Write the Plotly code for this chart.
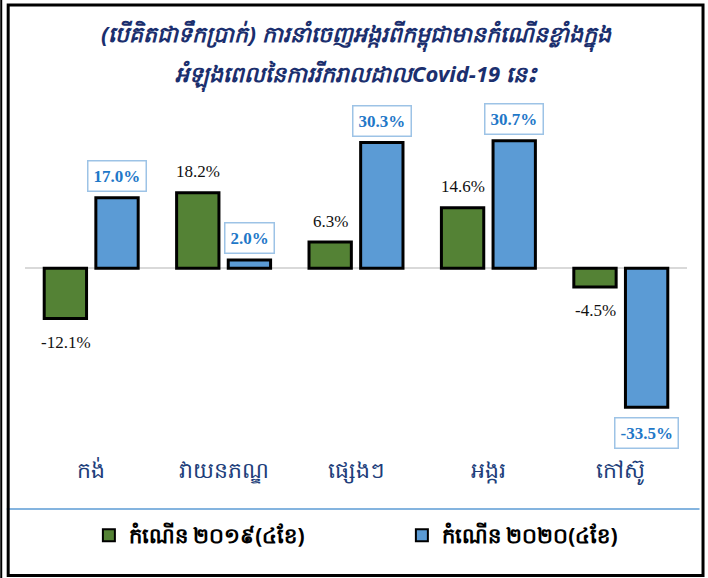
import plotly.graph_objects as go

categories = ["កង់", "វាយនភណ្ឌ", "ផ្សេងៗ", "អង្ករ", "កៅស៊ូ"]
growth_2019 = [-12.1, 18.2, 6.3, 14.6, -4.5]
growth_2020 = [17.0, 2.0, 30.3, 30.7, -33.5]
series_names = ["កំណើន ២០១៩(៤ខែ)", "កំណើន ២០២០(៤ខែ)"]
title_lines = ["(បើគិតជាទឹកប្រាក់) ការនាំចេញអង្ករពីកម្ពុជាមានកំណើនខ្លាំងក្នុង",
               "អំឡុងពេលនៃការរីករាលដាលCovid-19 នេះ"]

GREEN = "#548235"
BLUE = "#5b9bd5"
NAVY = "#1b2f6e"

fig = go.Figure()
fig.add_trace(go.Bar(x=categories, y=growth_2019, name=series_names[0],
                     marker=dict(color=GREEN, line=dict(color="black", width=3))))
fig.add_trace(go.Bar(x=categories, y=growth_2020, name=series_names[1],
                     marker=dict(color=BLUE, line=dict(color="black", width=3))))

annotations = []
off = 0.194
for i, v in enumerate(growth_2019):
    annotations.append(dict(
        x=i - off, y=v, xref="x", yref="y", showarrow=False,
        text=f"{v:.1f}%", yshift=21 if v >= 0 else -24,
        font=dict(family="Liberation Serif", size=17, color="#111111")))
for i, v in enumerate(growth_2020):
    annotations.append(dict(
        x=i + off, y=v, xref="x", yref="y", showarrow=False,
        text=f"<b>{v:.1f}%</b>", yshift=22 if v >= 0 else -26,
        bordercolor="#9dc3e6", borderwidth=1.5, borderpad=5, bgcolor="white",
        font=dict(family="Liberation Serif", size=17, color="#1f78c8")))

for k, line in enumerate(title_lines):
    annotations.append(dict(
        x=0.5, xref="paper", y=[1.323, 1.203][k], yref="paper", showarrow=False,
        text=f"<b><i>{line}</i></b>",
        font=dict(family="Noto Sans, DejaVu Sans", size=22, color=NAVY)))

fig.update_layout(
    width=708, height=578,
    margin=dict(l=25, r=21, t=123, b=123, autoexpand=False),
    paper_bgcolor="white", plot_bgcolor="white",
    barmode="group", bargap=0.22, bargroupgap=0.18,
    showlegend=True,
    legend=dict(orientation="h", x=0.0965, xanchor="left", y=-0.181, yanchor="top",
                font=dict(family="Noto Sans, DejaVu Sans", size=21, color="black",
                          weight="bold"),
                entrywidth=268, entrywidthmode="pixels", itemsizing="constant",
                bgcolor="rgba(0,0,0,0)", tracegroupgap=0),
    xaxis=dict(showgrid=False, showline=False, ticks="",
               tickfont=dict(family="Noto Sans, DejaVu Sans", size=22, color="#203d7a")),
    yaxis=dict(range=[-45, 35], showgrid=False, showticklabels=False, showline=False,
               zeroline=True, zerolinecolor="#d9d9d9", zerolinewidth=1.5),
    annotations=annotations,
    shapes=[
        dict(type="line", xref="paper", yref="paper", x0=-0.0276, x1=1.0189,
             y0=-0.1627, y1=-0.1627, line=dict(color="#5b9bd5", width=1.5)),
        dict(type="rect", xref="paper", yref="paper", x0=-0.0254, x1=1.0242,
             y0=-0.363, y1=1.3554, line=dict(color="black", width=3)),
        dict(type="line", xref="paper", yref="paper", x0=-0.0359, x1=-0.0359,
             y0=-0.3705, y1=1.3705, line=dict(color="black", width=2)),
    ],
    font=dict(family="Noto Sans, DejaVu Sans"),
)

fig.write_html("out.html", config={"displayModeBar": False},
               post_script="document.body.style.margin='0';document.body.style.overflow='hidden';")
